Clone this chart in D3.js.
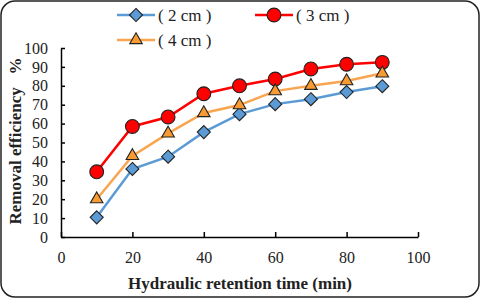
<!DOCTYPE html>
<html><head><meta charset="utf-8">
<script src="https://cdn.jsdelivr.net/npm/d3@7"></script>
<style>body{margin:0;background:#fff}svg{display:block}</style>
</head><body>
<script>
const times = [10,20,30,40,50,60,70,80,90];
const s2cm = [10.4,36,42.5,55.5,65,70.3,72.9,76.7,79.8];
const s3cm = [34.5,58.5,63.5,75.8,80,83.6,88.9,91.4,92.4];
const s4cm = [20,42.9,54.8,65.6,69.8,77.2,80,82.5,86.6];
const seriesNames = ["( 2 cm )","( 3 cm )","( 4 cm )"];
const xTicks = [0,20,40,60,80,100];
const yTicks = [0,10,20,30,40,50,60,70,80,90,100];

const W=480,H=298;
const svg=d3.select("body").append("svg").attr("width",W).attr("height",H);
svg.append("rect").attr("x",1).attr("y",1).attr("width",W-2).attr("height",H-2)
  .attr("rx",14).attr("fill","#fff").attr("stroke","#222").attr("stroke-width",1.5);

const x=d3.scaleLinear().domain([0,100]).range([61,418]);
const y=d3.scaleLinear().domain([0,100]).range([237,48]);
const font="'Liberation Serif','Times New Roman',serif";

const xa=svg.append("g").attr("transform","translate(0,237)")
  .call(d3.axisBottom(x).tickValues(xTicks).tickSizeInner(-5).tickSizeOuter(0).tickPadding(15));
const ya=svg.append("g").attr("transform","translate(61,0)")
  .call(d3.axisLeft(y).tickValues(yTicks).tickSizeInner(-4).tickSizeOuter(0).tickPadding(13));
[xa,ya].forEach(a=>{
  a.select(".domain").attr("stroke","#000").attr("stroke-width",1.5);
  a.selectAll(".tick line").attr("stroke","#000").attr("stroke-width",1.5);
  a.selectAll("text").attr("font-family",font).attr("font-size",16).attr("fill","#222");
});

const diamond={draw(ctx,size){const r=Math.sqrt(size/2);ctx.moveTo(0,-r);ctx.lineTo(r,0);ctx.lineTo(0,r);ctx.lineTo(-r,0);ctx.closePath();}};
const series=[
  {name:seriesNames[0],vals:s2cm,color:"#5B9BD5",fill:"#5B9BD5",shape:diamond,size:85},
  {name:seriesNames[1],vals:s3cm,color:"#FF0000",fill:"#FF0000",shape:d3.symbolCircle,size:150},
  {name:seriesNames[2],vals:s4cm,color:"#F9A54F",fill:"#F79B32",shape:d3.symbolTriangle,size:68}
];
const line=d3.line().x(d=>x(d[0])).y(d=>y(d[1]));
series.forEach(s=>{
  const pts=times.map((t,i)=>[t,s.vals[i]]);
  svg.append("path").datum(pts).attr("d",line).attr("fill","none")
    .attr("stroke",s.color).attr("stroke-width",2.5);
});
series.forEach(s=>{
  const pts=times.map((t,i)=>[t,s.vals[i]]);
  svg.selectAll(null).data(pts).enter().append("path")
    .attr("d",d3.symbol().type(s.shape).size(s.size))
    .attr("transform",d=>`translate(${x(d[0])},${y(d[1])})`)
    .attr("fill",s.fill).attr("stroke","#222").attr("stroke-width",1.1);
});

// legend
const leg=[{s:series[0],lx:117,ly:15},{s:series[1],lx:255,ly:15},{s:series[2],lx:117,ly:40}];
leg.forEach(l=>{
  svg.append("line").attr("x1",l.lx).attr("x2",l.lx+38).attr("y1",l.ly).attr("y2",l.ly)
    .attr("stroke",l.s.color).attr("stroke-width",2.5);
  svg.append("path").attr("d",d3.symbol().type(l.s.shape).size(l.s.size))
    .attr("transform",`translate(${l.lx+19},${l.ly})`).attr("fill",l.s.fill).attr("stroke","#222").attr("stroke-width",1.1);
  svg.append("text").attr("x",l.lx+41).attr("y",l.ly+6).attr("font-family",font)
    .attr("font-size",17).attr("fill","#222").attr("xml:space","preserve").text(l.s.name);
});

svg.append("text").attr("x",240).attr("y",289).attr("text-anchor","middle")
  .attr("font-family",font).attr("font-weight","bold").attr("font-size",17).attr("fill","#222")
  .text("Hydraulic retention time (min)");
svg.append("text").attr("transform","translate(21,141) rotate(-90)").attr("text-anchor","middle")
  .attr("font-family",font).attr("font-weight","bold").attr("font-size",17).attr("fill","#222")
  .attr("xml:space","preserve").text("Removal efficiency   %");
</script>
</body></html>
